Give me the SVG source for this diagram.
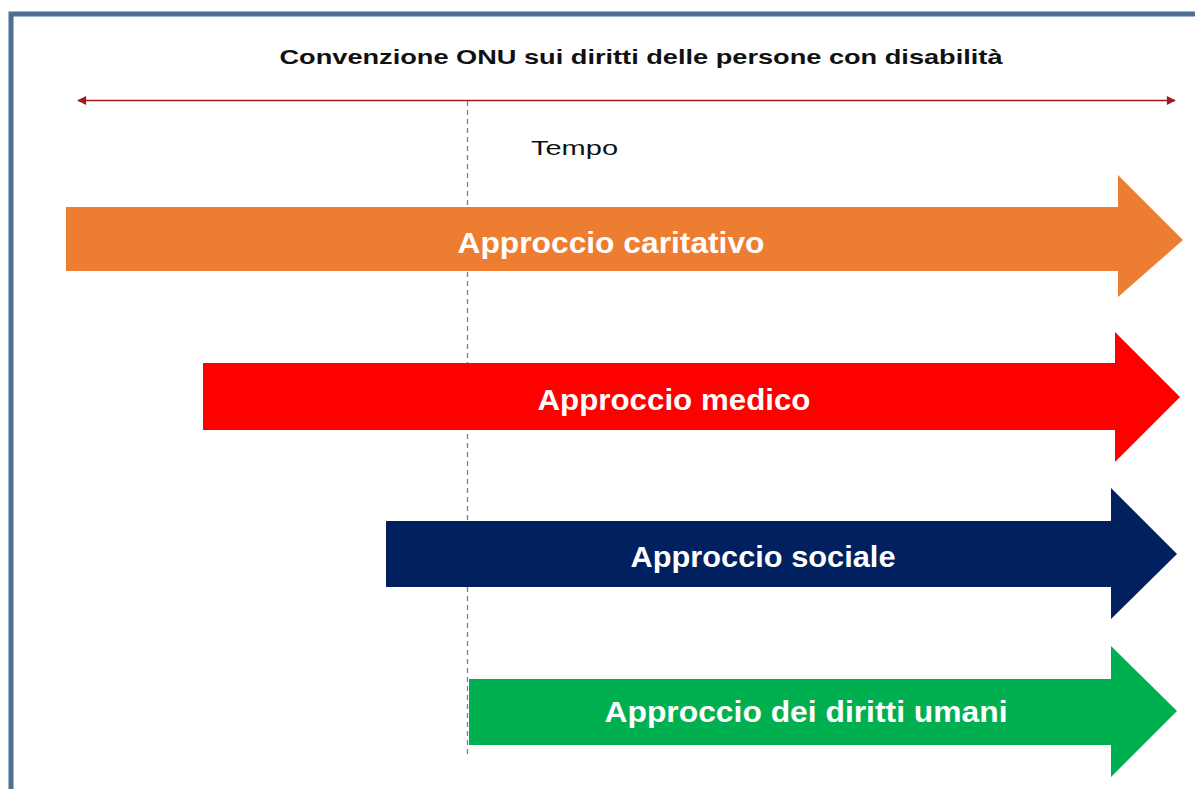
<svg xmlns="http://www.w3.org/2000/svg" width="1195" height="789" viewBox="0 0 1195 789">
  <style>
    .lbl { font-family: "Liberation Sans", Arial, sans-serif; font-weight: bold; font-size: 29px; fill: #ffffff; }
    .title { font-family: "Liberation Sans", Arial, sans-serif; font-weight: bold; font-size: 21px; fill: #111111; }
    .tempo { font-family: "Liberation Sans", Arial, sans-serif; font-size: 21px; fill: #111111; }
  </style>
  <defs>
    <marker id="ah" viewBox="0 0 10 10" refX="9" refY="5" markerWidth="11" markerHeight="9" markerUnits="userSpaceOnUse" orient="auto-start-reverse">
      <path d="M0,0 L10,5 L0,10 Z" fill="#a3191f"/>
    </marker>
  </defs>
  <rect width="1195" height="789" fill="#ffffff"/>
  <rect id="frame" x="11" y="14" width="1210" height="800" fill="none" stroke="#4f6f95" stroke-width="5"/>

  <g id="title">
    <text class="title" x="641" y="64" text-anchor="middle" textLength="723" lengthAdjust="spacingAndGlyphs">Convenzione ONU sui diritti delle persone con disabilità</text>
  </g>

  <g id="connectors">
    <line x1="78" y1="100.5" x2="1175" y2="100.5" stroke="#a3191f" stroke-width="1.5" marker-start="url(#ah)" marker-end="url(#ah)"/>
    <line x1="467.5" y1="101" x2="467.5" y2="755" stroke="#5f88b8" stroke-width="1.3" stroke-dasharray="5,4"/>
  </g>

  <g id="tempo">
    <text class="tempo" x="531" y="155" textLength="87" lengthAdjust="spacingAndGlyphs">Tempo</text>
  </g>

  <g id="caritativo">
    <path d="M66,207 H1118 V175 L1183,240 L1118,297 V271 H66 Z" fill="#ed7d31"/>
    <text class="lbl" x="611" y="253" text-anchor="middle" textLength="307" lengthAdjust="spacingAndGlyphs">Approccio caritativo</text>
  </g>

  <g id="medico">
    <path d="M203,363 H1115 V332 L1180,397 L1115,462 V430 H203 Z" fill="#ff0000"/>
    <text class="lbl" x="674" y="410" text-anchor="middle" textLength="273" lengthAdjust="spacingAndGlyphs">Approccio medico</text>
  </g>

  <g id="sociale">
    <path d="M386,521 H1111 V488 L1177,554 L1111,619 V587 H386 Z" fill="#002060"/>
    <text class="lbl" x="763" y="567" text-anchor="middle" textLength="265" lengthAdjust="spacingAndGlyphs">Approccio sociale</text>
  </g>

  <g id="diritti">
    <path d="M469,679 H1111 V646 L1177,711 L1111,777 V745 H469 Z" fill="#00b050"/>
    <text class="lbl" x="806" y="722" text-anchor="middle" textLength="403" lengthAdjust="spacingAndGlyphs">Approccio dei diritti umani</text>
  </g>
</svg>
